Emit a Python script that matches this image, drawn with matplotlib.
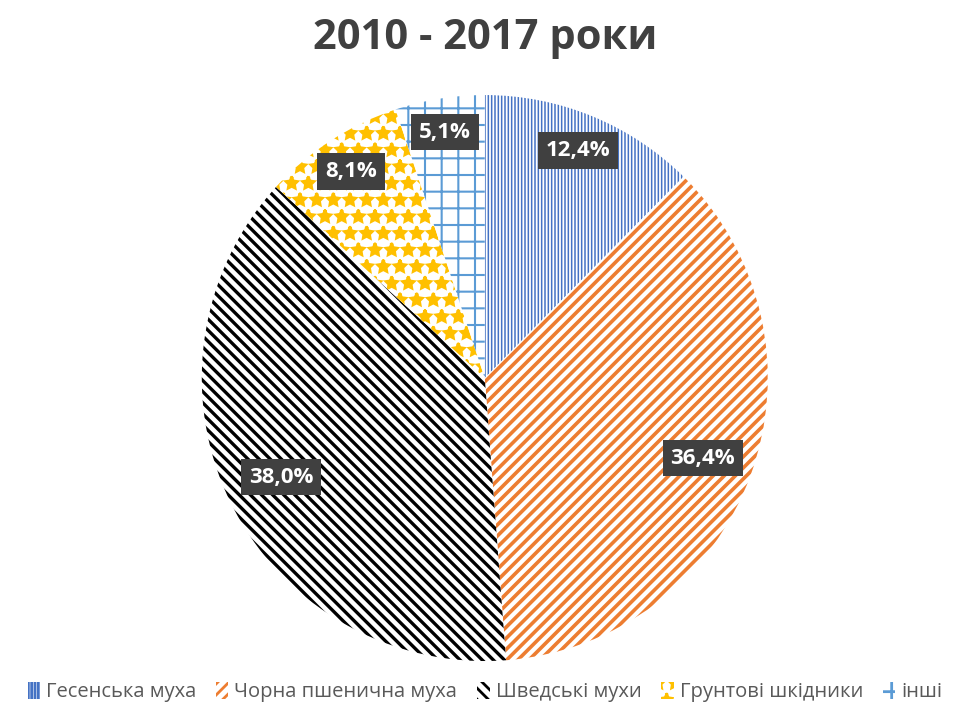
import matplotlib.pyplot as plt
import numpy as np

plt.rcParams["font.family"] = ["Open Sans", "DejaVu Sans"]
plt.rcParams["hatch.linewidth"] = 2.0

# Data
labels = ["Гесенська муха", "Чорна пшенична муха", "Шведські мухи", "Грунтові шкідники", "інші"]
shares = [12.4, 36.4, 38.0, 8.1, 5.1]
pct_text = ["12,4%", "36,4%", "38,0%", "8,1%", "5,1%"]

colors = ["#4472C4", "#ED7D31", "#000000", "#FFC000", "#5B9BD5"]
hatches = ["|||||", "///", "\\\\\\", "*", "+"]
hatch_lw = [1.1, 2.6, 2.4, 2.2, 1.5]

fig = plt.figure(figsize=(9.7, 7.04), dpi=100)
ax = fig.add_axes([0.208, 0.061, 0.5835, 0.804])

wedges, _ = ax.pie(shares, startangle=90, counterclock=False, radius=1.0,
                   wedgeprops=dict(facecolor="white", linewidth=0))
for w, c, h, lw in zip(wedges, colors, hatches, hatch_lw):
    w.set_edgecolor(c)
    w.set_hatch(h)
    if hasattr(w, "set_hatch_linewidth"):
        w.set_hatch_linewidth(lw)
    else:
        w._hatch_linewidth = lw

# percentage labels in dark boxes
dists = [0.87, 0.82, 0.80, 0.87, 0.88]
for w, t, d in zip(wedges, pct_text, dists):
    ang = np.deg2rad((w.theta1 + w.theta2) / 2)
    ax.text(d * np.cos(ang), d * np.sin(ang), t, ha="center", va="center",
            fontsize=16, fontweight="bold", color="white",
            bbox=dict(boxstyle="square,pad=0.35", facecolor="#404040", edgecolor="none"))

ax.set_xlim(-1, 1)
ax.set_ylim(-1, 1)
ax.set_aspect("equal")

fig.text(0.5, 0.945, "2010 - 2017 роки", ha="center", va="center",
         fontsize=30, fontweight="bold", color="#404040")

leg = fig.legend(wedges, labels, loc="center", bbox_to_anchor=(0.5, 0.017),
                 ncol=5, frameon=False, fontsize=14.5, handlelength=0.6,
                 handleheight=0.9, handletextpad=0.3, columnspacing=1.0,
                 labelcolor="#595959")

fig.savefig("out.png", dpi=100)
